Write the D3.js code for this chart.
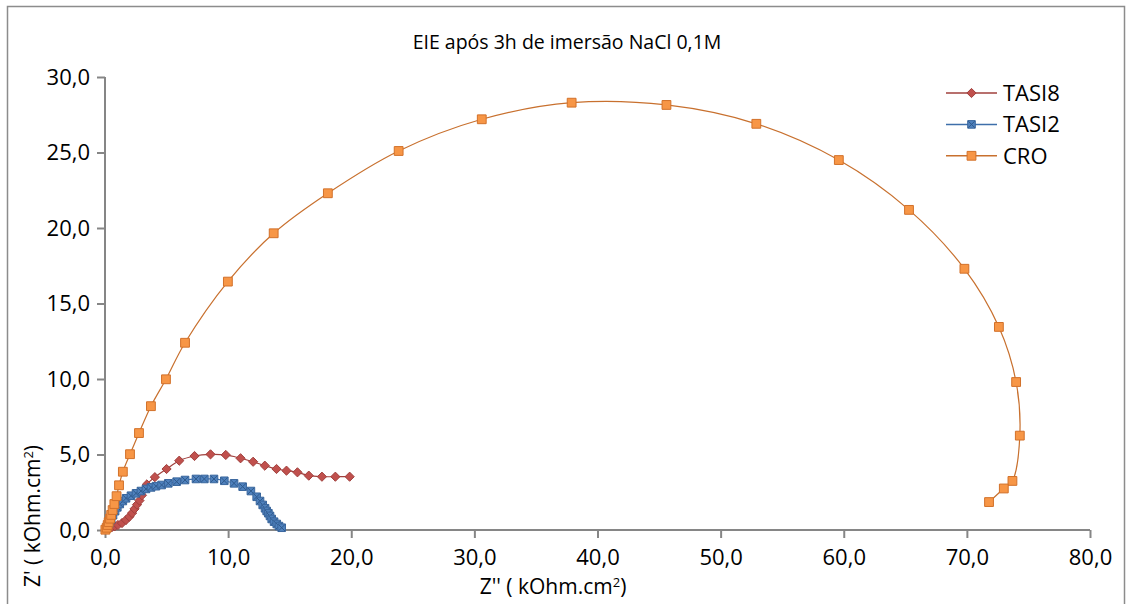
<!DOCTYPE html>
<html>
<head>
<meta charset="utf-8">
<script src="https://cdn.jsdelivr.net/npm/d3@7"></script>
<style>
    body { margin: 0; background: #fff; }
    .chart { width: 1131px; height: 604px; }
    text { font-family: "Open Sans", "Liberation Sans", sans-serif; fill: #000; }
</style>
</head>
<body>
<div class="chart"></div>
<script>
//Values, [Z'', Z'] in kOhm.cm2
const tasi8 = [
    [0.1, 0.05], [0.3, 0.12], [0.55, 0.18], [0.8, 0.25], [1.05, 0.33], [1.38, 0.46],
    [1.7, 0.66], [1.98, 0.88], [2.2, 1.12], [2.4, 1.4], [2.6, 1.68], [2.8, 1.95],
    [3.0, 2.3], [3.15, 2.65], [3.4, 3.02], [4.05, 3.5], [5.0, 4.04], [6.03, 4.59],
    [7.27, 4.9], [8.57, 5.01], [9.81, 4.97], [11.01, 4.75], [12.03, 4.52], [12.98, 4.26],
    [13.93, 4.04], [14.74, 3.93], [15.63, 3.82], [16.55, 3.6], [17.62, 3.53], [18.71, 3.53],
    [19.87, 3.53]
];

const tasi2 = [
    [0.1, 0.08], [0.22, 0.25], [0.35, 0.45], [0.5, 0.7], [0.65, 0.98], [0.82, 1.25],
    [1.0, 1.5], [1.2, 1.72], [1.45, 1.92], [1.71, 2.1], [2.11, 2.27], [2.52, 2.43],
    [2.92, 2.58], [3.33, 2.72], [3.74, 2.82], [4.14, 2.9], [4.6, 2.98], [5.14, 3.09],
    [5.82, 3.2], [6.5, 3.31], [7.39, 3.38], [8.07, 3.38], [8.85, 3.38], [9.69, 3.26],
    [10.48, 3.09], [11.18, 2.87], [11.85, 2.58], [12.32, 2.2], [12.59, 1.92], [12.81, 1.66],
    [13.0, 1.44], [13.13, 1.26], [13.27, 1.11], [13.4, 0.93], [13.54, 0.73], [13.73, 0.55],
    [13.95, 0.4], [14.13, 0.26], [14.35, 0.15]
];

const cro = [
    [0.03, 0.02], [0.14, 0.15], [0.22, 0.33], [0.3, 0.52], [0.41, 0.75], [0.5, 1.0],
    [0.62, 1.32], [0.76, 1.72], [0.94, 2.24], [1.14, 2.96], [1.45, 3.86], [2.03, 5.02],
    [2.76, 6.42], [3.73, 8.2], [4.95, 9.98], [6.5, 12.4], [9.98, 16.45], [13.7, 19.65],
    [18.1, 22.3], [23.85, 25.1], [30.6, 27.2], [37.9, 28.3], [45.6, 28.15], [52.9, 26.9],
    [59.6, 24.5], [65.3, 21.2], [69.8, 17.3], [72.6, 13.45], [74.0, 9.8], [74.3, 6.25],
    [73.7, 3.25], [73.0, 2.75], [71.8, 1.85]
];

const seriesNames = ["TASI8", "TASI2", "CRO"];
const xTicks = [0, 10, 20, 30, 40, 50, 60, 70, 80];
const yTicks = [0, 5, 10, 15, 20, 25, 30];

const chartTitle = "EIE após 3h de imersão NaCl 0,1M";
const xTitle = "Z'' ( kOhm.cm";
const yTitle = "Z' ( kOhm.cm";

//A global object to hold all of our logic.
let chart = {};

//Excel style markers: rotated square, square with a cross, plain square
const diamondPath = "M0,-4.6L4.6,0L0,4.6L-4.6,0Z";
const smallSquare = "M-3.8,-3.8H3.8V3.8H-3.8Z";
const bigSquare = "M-4.4,-4.4H4.4V4.4H-4.4Z";

chart.series = [
    { name: seriesNames[0], values: tasi8, line: "#A0403D", fill: "#C0504D", stroke: "#A0403D", marker: diamondPath },
    { name: seriesNames[1], values: tasi2, line: "#3E6FAA", fill: "#4F81BD", stroke: "#3A679E", marker: smallSquare, cross: true },
    { name: seriesNames[2], values: cro, line: "#C8702E", fill: "#F79646", stroke: "#D2712A", marker: bigSquare }
];

init();

function init() {
    setDimensions();
    setScales();
    appendElements();
}

function setDimensions() {
    chart.margin = { top: 77, right: 41, bottom: 74, left: 105 };
    chart.width = 1131 - chart.margin.left - chart.margin.right;
    chart.height = 604 - chart.margin.top - chart.margin.bottom;
}

function setScales() {
    chart.x = d3.scaleLinear().domain([0, 80]).range([0, chart.width]);
    chart.y = d3.scaleLinear().domain([0, 30]).range([chart.height, 0]);
    chart.line = d3.line()
        .x(d => chart.x(d[0]))
        .y(d => chart.y(d[1]))
        .curve(d3.curveCatmullRom.alpha(0.5));
}

function fmt(v) {
    return d3.format(".1f")(v).replace(".", ",");
}

function appendElements() {

    chart.svg = d3.select(".chart").append("svg")
        .attr("width", 1131)
        .attr("height", 604);

    //outer frame of the chart area
    chart.svg.append("rect")
        .attr("x", 7.5).attr("y", 6.5)
        .attr("width", 1117).attr("height", 610)
        .attr("fill", "none")
        .attr("stroke", "#8c8c8c")
        .attr("stroke-width", 1.5);

    chart.svg.append("text")
        .attr("x", 567).attr("y", 49)
        .attr("text-anchor", "middle")
        .style("font-size", "19.5px")
        .text(chartTitle);

    chart.plot = chart.svg.append("g")
        .attr("transform", `translate(${chart.margin.left},${chart.margin.top})`);

    //axes
    let xAxis = chart.plot.append("g")
        .attr("transform", `translate(0,${chart.height})`)
        .call(d3.axisBottom(chart.x).tickValues(xTicks).tickFormat(fmt).tickSize(8).tickPadding(11));

    let yAxis = chart.plot.append("g")
        .call(d3.axisLeft(chart.y).tickValues(yTicks).tickFormat(fmt).tickSize(8).tickPadding(7));

    [xAxis, yAxis].forEach(a => {
        a.select(".domain").attr("stroke", "#868686").attr("stroke-width", 2);
        a.selectAll(".tick line").attr("stroke", "#868686").attr("stroke-width", 2);
        a.selectAll(".tick text")
            .style("font-size", "22px")
            .style("font-family", "'Open Sans', sans-serif")
            .attr("fill", "#000");
    });
    xAxis.select(".domain").attr("d", `M0,0H${chart.width}`);
    yAxis.select(".domain").attr("d", `M0,0V${chart.height}`);

    //series
    chart.series.forEach(s => {
        let g = chart.plot.append("g");

        g.append("path")
            .datum(s.values)
            .attr("d", chart.line)
            .attr("fill", "none")
            .attr("stroke", s.line)
            .attr("stroke-width", 1.2);

        let marks = g.selectAll("g.mark")
            .data(s.values)
            .enter().append("g")
            .attr("class", "mark")
            .attr("transform", d => `translate(${chart.x(d[0])},${chart.y(d[1])})`);

        drawMarker(marks, s);
    });

    //legend
    let legend = chart.svg.append("g").attr("transform", "translate(946,93)");
    chart.series.forEach((s, i) => {
        let row = legend.append("g").attr("transform", `translate(0,${i * 31.4})`);
        row.append("line")
            .attr("x1", 0).attr("x2", 51)
            .attr("stroke", s.line).attr("stroke-width", 1.5);
        let m = row.append("g").attr("transform", "translate(25.5,0)");
        drawMarker(m, s);
        row.append("text")
            .attr("x", 57).attr("y", 8)
            .style("font-size", "22px")
            .text(s.name);
    });

    //axis titles
    let xt = chart.svg.append("text")
        .attr("x", 553).attr("y", 594)
        .attr("text-anchor", "middle")
        .style("font-size", "21px");
    xt.append("tspan").text(xTitle);
    xt.append("tspan").attr("dy", -7).style("font-size", "13px").text("2");
    xt.append("tspan").attr("dy", 7).text(")");

    let yt = chart.svg.append("text")
        .attr("transform", "translate(40,516) rotate(-90)")
        .attr("text-anchor", "middle")
        .style("font-size", "21px");
    yt.append("tspan").text(yTitle);
    yt.append("tspan").attr("dy", -7).style("font-size", "13px").text("2");
    yt.append("tspan").attr("dy", 7).text(")");
}

function drawMarker(sel, s) {
    sel.append("path")
        .attr("d", s.marker)
        .attr("fill", s.fill)
        .attr("stroke", s.stroke)
        .attr("stroke-width", 1);
    if (s.cross) {
        sel.append("path")
            .attr("d", "M-3.3,-3.3L3.3,3.3M-3.3,3.3L3.3,-3.3")
            .attr("stroke", "#2f5a8c")
            .attr("stroke-width", 1);
    }
}
</script>
</body>
</html>
